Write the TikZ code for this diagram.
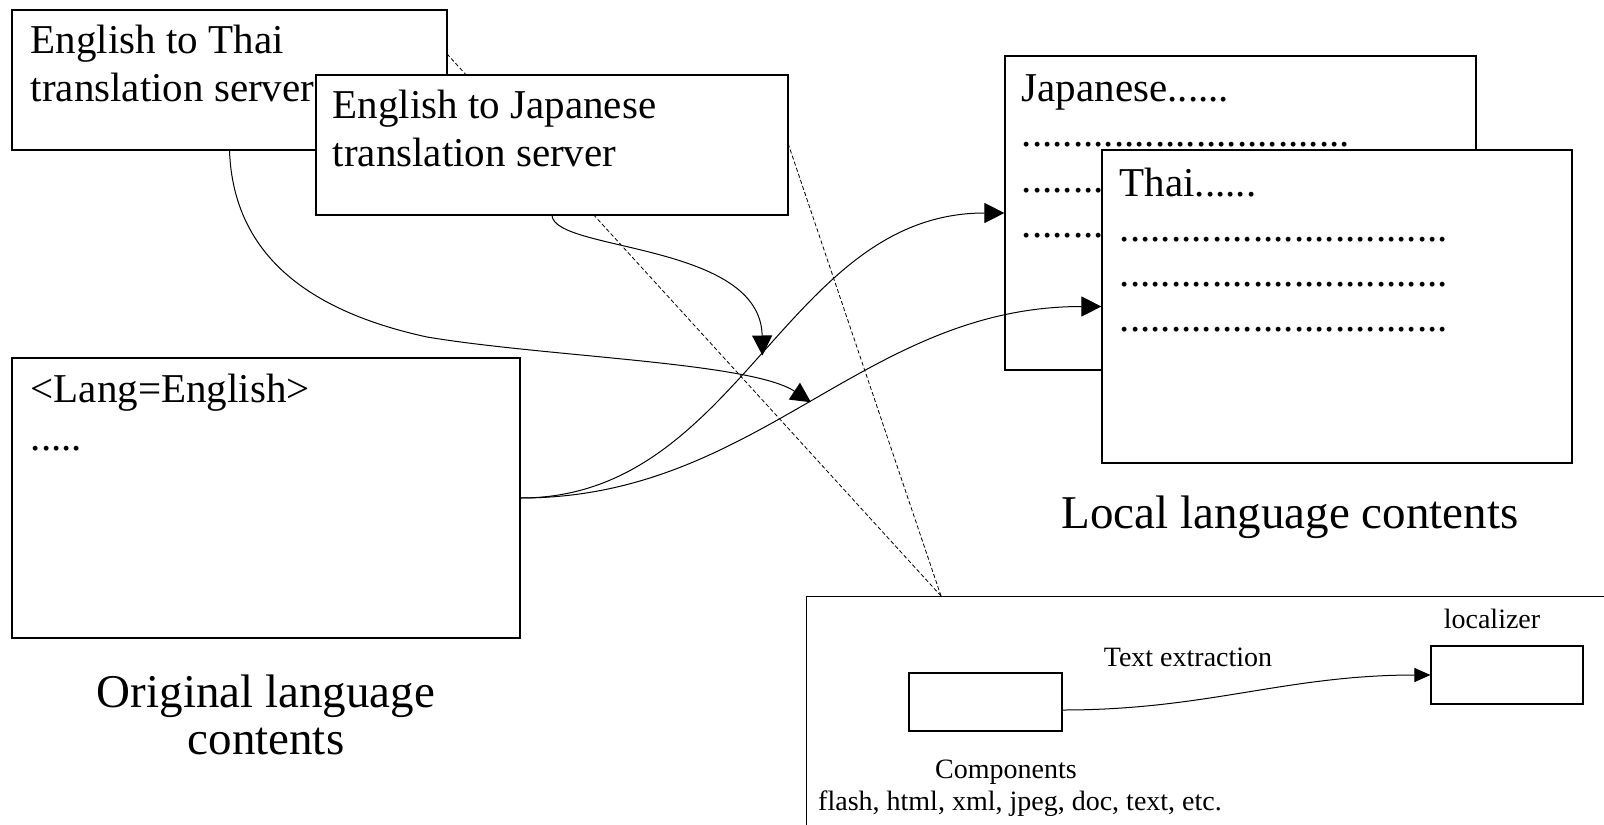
\documentclass[tikz,border=0pt]{standalone}
\usepackage{fontspec}
\setmainfont{Liberation Serif}
\usetikzlibrary{arrows.meta,calc,backgrounds}

\newcommand{\dotline}{................................}

\begin{document}
\begin{tikzpicture}[x=0.5pt, y=-0.5pt, >={Triangle[length=10pt,width=10pt]},
  box/.style={draw, fill=white, inner sep=0pt, line width=0.6pt},
  boxtext/.style={anchor=north west, align=left, inner sep=0pt, font=\fontsize{20.5}{24}\selectfont},
  listtext/.style={anchor=north west, align=left, inner sep=0pt, font=\fontsize{20.5}{22.6}\selectfont},
  caption/.style={anchor=north, align=center, inner sep=0pt, font=\fontsize{23.5}{23.5}\selectfont},
  smalltext/.style={inner sep=0pt, font=\fontsize{14}{16}\selectfont},
  link/.style={->, line width=0.5pt},
  tap/.style={dash pattern=on 2pt off 1.2pt, line width=0.4pt}]
\useasboundingbox (0,0) rectangle (1604,824);
\clip (0,0) rectangle (1604,824);

\node[box, minimum width=235.5pt, minimum height=157pt] (japcont) at (1240.5,213) {};
\node[listtext] (japtext) at ($(japcont.north west)+(17,19)$) {Japanese......\\\dotline\\\dotline\\\dotline};
\node[box, minimum width=235pt, minimum height=156.5pt] (thaicont) at (1337,306.5) {};
\node[listtext] (thaitext) at ($(thaicont.north west)+(18,18)$) {Thai......\\\dotline\\\dotline\\\dotline};
\node[caption] (localcap) at (1290,495) {Local language contents};

\node[box, minimum width=217.5pt, minimum height=70pt] (thaisrv) at (229.5,80) {};
\node[boxtext] (thaisrvtext) at ($(thaisrv.north west)+(19,15)$) {English to Thai\\translation server};
\node[box, minimum width=236pt, minimum height=70pt] (japsrv) at (552,145) {};
\node[boxtext] (japsrvtext) at ($(japsrv.north west)+(17,15)$) {English to Japanese\\translation server};

\node[box, minimum width=254pt, minimum height=140pt] (orig) at (266,498) {};
\node[listtext, font=\fontsize{20.5}{24}\selectfont] (origtext) at ($(orig.north west)+(19,16)$) {<Lang=English>\\.....};
\node[caption] (origcap) at (266,674) {Original language\\contents};

\node[box, fill=none, minimum width=410pt, minimum height=125pt, anchor=north west] (tools) at (806,596) {};
\coordinate (callout) at ($(tools.north west)+(135,0)$);
\node[box, minimum width=76.5pt, minimum height=29pt] (comp) at (985.5,702) {};
\node[box, minimum width=76pt, minimum height=29pt] (localizer) at (1507,675) {};
\node[smalltext] (loclabel) at (1492,619) {localizer};
\node[smalltext] (extlabel) at (1188,657) {Text extraction};
\node[smalltext] (complabel) at (1006,772) {Components};
\node[smalltext] (typelabel) at (1020,804) {flash, html, xml, jpeg, doc, text, etc.};

\draw[link] (orig.east) to[out=0,in=180] coordinate[pos=0.5] (joinjap) (japcont.west);
\draw[link] (orig.east) to[out=0,in=180] coordinate[pos=0.5] (jointhai) (thaicont.west);
\draw[link] (thaisrv.south) .. controls +(4,110) and +(-110,-24) .. (427,337) .. controls +(120,20) and +(-60,-40) .. (jointhai);
\draw[link] (japsrv.south) .. controls +(3,36) and +(-2,-113) .. (joinjap);
\draw[link, >={Triangle[length=8pt,width=7pt]}] ([yshift=-4pt]comp.east) to[out=0,in=180] (localizer.west);

\begin{scope}[on background layer]
\draw[tap] (callout) -- ($(thaisrv.north east)!0.32!(thaisrv.south east)$);
\draw[tap] (callout) -- (japsrv.east);
\end{scope}
\end{tikzpicture}
\end{document}
